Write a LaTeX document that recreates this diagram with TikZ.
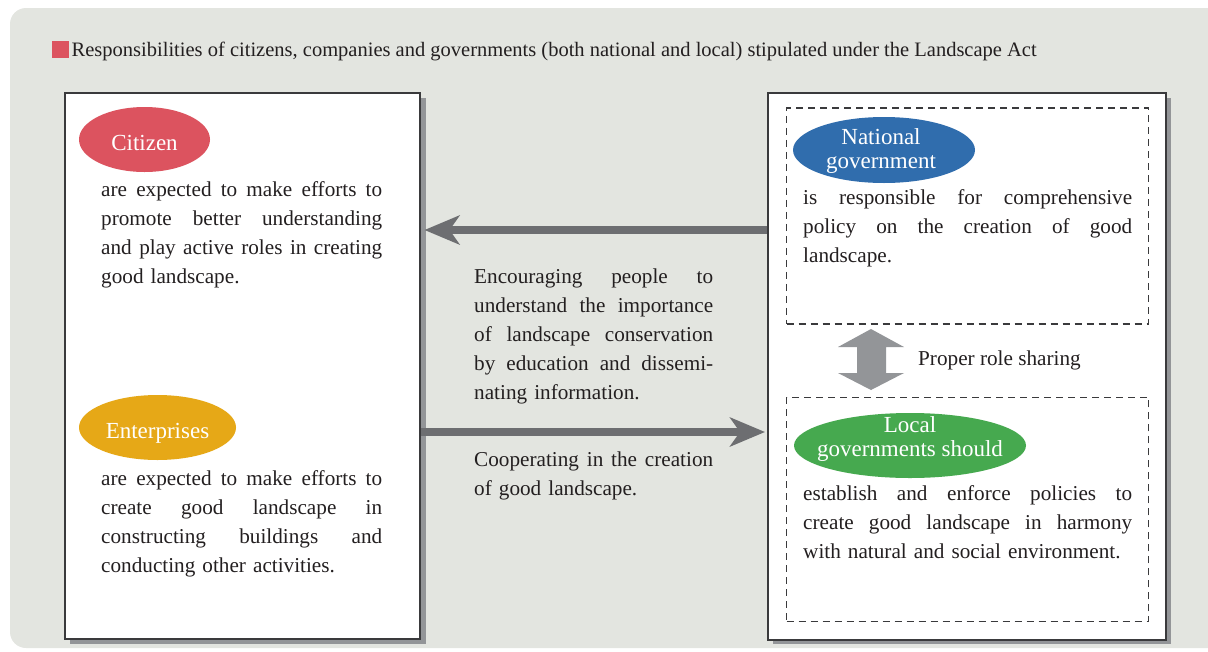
\documentclass[tikz,border=0pt]{standalone}
\usepackage{fontspec}
\setmainfont{Liberation Serif}
\usetikzlibrary{arrows.meta,shapes.geometric}
\definecolor{bgc}{HTML}{E3E5E0}
\definecolor{shadowc}{HTML}{939598}
\definecolor{arrowc}{HTML}{6D6E71}
\definecolor{txt}{HTML}{231F20}
\definecolor{redc}{HTML}{DC535F}
\definecolor{yelc}{HTML}{E6A817}
\definecolor{bluec}{HTML}{306DAD}
\definecolor{greenc}{HTML}{46A94F}
\definecolor{framec}{HTML}{3A3A3C}
\newcommand{\jline}[1]{{\spaceskip=0.25em plus 1fil\relax\xspaceskip=0pt\relax\makebox[\hsize][s]{#1}}}
\begin{document}
\begin{tikzpicture}[x=1pt,y=-1pt,
  body/.style={font=\fontsize{21.2}{29}\selectfont, text=txt, inner sep=0pt, anchor=base west, align=left},
  lab/.style={font=\fontsize{23}{24}\selectfont, text=white, inner sep=0pt, align=center, anchor=base},
  ell/.style={ellipse, draw=none, inner sep=0pt},
  bigbox/.style={rectangle, draw=framec, line width=1.5pt, fill=white, anchor=north west, inner sep=0pt},
  dbox/.style={rectangle, draw=framec, line width=1.3pt, dash pattern=on 7pt off 5pt, anchor=north west, inner sep=0pt},
  arr/.style={draw=arrowc, line width=8pt, -{Stealth[length=35pt,width=29pt,inset=10pt]}}]
\useasboundingbox (0,0) rectangle (1208,651);
\fill[bgc, rounded corners=16pt] (10,8) rectangle (1240,648);
% title
\fill[redc] (51.7,41.3) rectangle (69,57.7);
\node[font=\fontsize{20.5}{24}\selectfont, text=txt, inner sep=0pt, anchor=base west] (title) at (71.5,56.7)
  {Responsibilities of citizens, companies and governments (both national and local) stipulated under the Landscape Act};
% shadows
\fill[shadowc] (70,98) rectangle (425.5,644);
\fill[shadowc] (773,98) rectangle (1171,644);
% boxes
\node[bigbox, minimum width=355pt, minimum height=546pt] (lbox) at (64,92) {};
\node[bigbox, minimum width=398pt, minimum height=547pt] (rbox) at (767,92) {};
\node[dbox, minimum width=362pt, minimum height=216pt] (nat) at (786,107.3) {};
\node[dbox, minimum width=362pt, minimum height=224pt] (loc) at (786,396.7) {};
% ellipses
\node[ell, fill=redc, minimum width=131pt, minimum height=65pt] (cit) at (144.5,139.5) {};
\node[lab] (citl) at (144.5,150) {Citizen};
\node[ell, fill=yelc, minimum width=157pt, minimum height=65pt] (ent) at (157.5,427.5) {};
\node[lab] (entl) at (157.5,438.3) {Enterprises};
\node[ell, fill=bluec, minimum width=182pt, minimum height=66pt] (natl) at (884,150) {};
\node[lab] (natt) at (881,168) {National\\government};
\node[ell, fill=greenc, minimum width=232pt, minimum height=65pt] (locl) at (910,445.5) {};
\node[lab] (loct) at (910,456) {Local\\governments should};
% texts
\node[body, text width=281pt] (citb) at (101,196.7) {\jline{are expected to make efforts to}\\
\jline{promote better understanding}\\
\jline{and play active roles in creating}\\
good landscape.};
\node[body, text width=281pt] (entb) at (101,485) {\jline{are expected to make efforts to}\\
\jline{create good landscape in}\\
\jline{constructing buildings and}\\
conducting other activities.};
\node[body, text width=329pt] (natb) at (803,204) {\jline{is responsible for comprehensive}\\
\jline{policy on the creation of good}\\
landscape.};
\node[body, text width=329pt] (locb) at (803,500) {\jline{establish and enforce policies to}\\
\jline{create good landscape in harmony}\\
with natural and social environment.};
\node[body, text width=239pt] (midb) at (474,283.3) {\jline{Encouraging people to}\\
\jline{understand the importance}\\
\jline{of landscape conservation}\\
\jline{by education and dissemi-}\\
nating information.};
\node[body, text width=239pt] (coop) at (474,466.7) {\jline{Cooperating in the creation}\\
of good landscape.};
\node[body] (share) at (918,365) {Proper role sharing};
% arrows
\draw[arr, shorten >=4pt] (rbox.west |- 0,230) -- (lbox.east |- 0,230);
\draw[arr, shorten >=2pt] (lbox.east |- 0,432) -- (rbox.west |- 0,432);
\fill[shadowc] (871,329) -- (904,347) -- (886,347) -- (886,373) -- (904,373) -- (871,390)
  -- (838,373) -- (857,373) -- (857,347) -- (838,347) -- cycle;
\end{tikzpicture}
\end{document}
